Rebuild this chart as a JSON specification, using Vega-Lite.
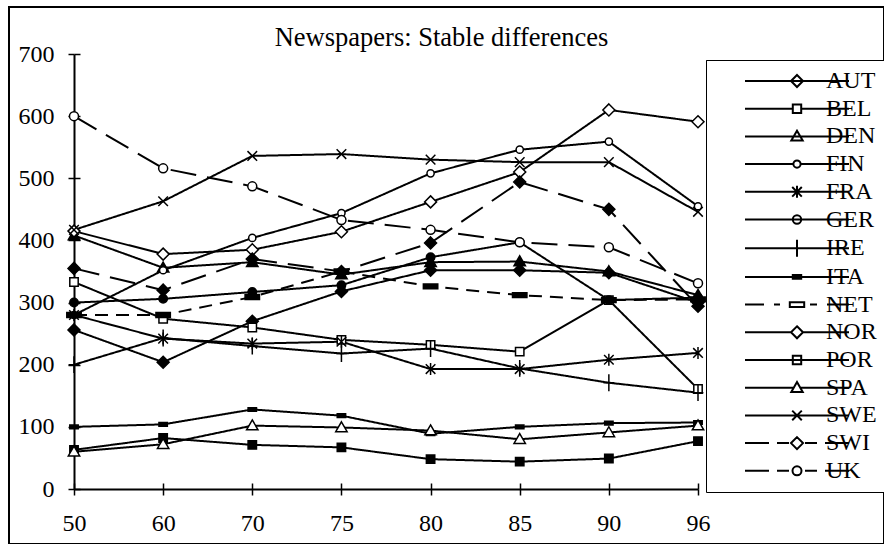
{
  "$schema": "https://vega.github.io/schema/vega-lite/v6.json",
  "width": 875,
  "height": 537,
  "autosize": "none",
  "padding": {"left": 9, "top": 7, "right": 0, "bottom": 0},
  "background": "white",
  "config": {
    "view": {"stroke": "black", "strokeWidth": 2, "fill": "white"},
    "font": "Liberation Serif"
  },
  "title": {
    "text": "Newspapers: Stable differences",
    "font": "Liberation Serif",
    "fontSize": 26.5,
    "fontWeight": "normal",
    "color": "black",
    "anchor": "middle",
    "frame": "group",
    "offset": -65,
    "baseline": "alphabetic",
    "dx": -5
  },
  "data": {
    "values": [
      {"country": "AUT", "year": "50", "value": 256}, {"country": "AUT", "year": "60", "value": 204}, {"country": "AUT", "year": "70", "value": 270}, {"country": "AUT", "year": "75", "value": 318}, {"country": "AUT", "year": "80", "value": 352}, {"country": "AUT", "year": "85", "value": 352}, {"country": "AUT", "year": "90", "value": 348}, {"country": "AUT", "year": "96", "value": 300},
      {"country": "BEL", "year": "50", "value": 333}, {"country": "BEL", "year": "60", "value": 274}, {"country": "BEL", "year": "70", "value": 260}, {"country": "BEL", "year": "75", "value": 240}, {"country": "BEL", "year": "80", "value": 232}, {"country": "BEL", "year": "85", "value": 221}, {"country": "BEL", "year": "90", "value": 304}, {"country": "BEL", "year": "96", "value": 161},
      {"country": "DEN", "year": "50", "value": 408}, {"country": "DEN", "year": "60", "value": 356}, {"country": "DEN", "year": "70", "value": 365}, {"country": "DEN", "year": "75", "value": 345}, {"country": "DEN", "year": "80", "value": 365}, {"country": "DEN", "year": "85", "value": 366}, {"country": "DEN", "year": "90", "value": 350}, {"country": "DEN", "year": "96", "value": 312},
      {"country": "FIN", "year": "50", "value": 280}, {"country": "FIN", "year": "60", "value": 352}, {"country": "FIN", "year": "70", "value": 404}, {"country": "FIN", "year": "75", "value": 444}, {"country": "FIN", "year": "80", "value": 508}, {"country": "FIN", "year": "85", "value": 546}, {"country": "FIN", "year": "90", "value": 559}, {"country": "FIN", "year": "96", "value": 455},
      {"country": "FRA", "year": "50", "value": 280}, {"country": "FRA", "year": "60", "value": 242}, {"country": "FRA", "year": "70", "value": 234}, {"country": "FRA", "year": "75", "value": 237}, {"country": "FRA", "year": "80", "value": 193}, {"country": "FRA", "year": "85", "value": 193}, {"country": "FRA", "year": "90", "value": 208}, {"country": "FRA", "year": "96", "value": 219},
      {"country": "GER", "year": "50", "value": 300}, {"country": "GER", "year": "60", "value": 306}, {"country": "GER", "year": "70", "value": 317}, {"country": "GER", "year": "75", "value": 328}, {"country": "GER", "year": "80", "value": 373}, {"country": "GER", "year": "85", "value": 397}, {"country": "GER", "year": "90", "value": 304}, {"country": "GER", "year": "96", "value": 308},
      {"country": "IRE", "year": "50", "value": 200}, {"country": "IRE", "year": "60", "value": 243}, {"country": "IRE", "year": "70", "value": 230}, {"country": "IRE", "year": "75", "value": 218}, {"country": "IRE", "year": "80", "value": 226}, {"country": "IRE", "year": "85", "value": 194}, {"country": "IRE", "year": "90", "value": 171}, {"country": "IRE", "year": "96", "value": 155},
      {"country": "ITA", "year": "50", "value": 100}, {"country": "ITA", "year": "60", "value": 104}, {"country": "ITA", "year": "70", "value": 128}, {"country": "ITA", "year": "75", "value": 118}, {"country": "ITA", "year": "80", "value": 89}, {"country": "ITA", "year": "85", "value": 100}, {"country": "ITA", "year": "90", "value": 106}, {"country": "ITA", "year": "96", "value": 107},
      {"country": "NET", "year": "50", "value": 280}, {"country": "NET", "year": "60", "value": 280}, {"country": "NET", "year": "70", "value": 309}, {"country": "NET", "year": "75", "value": 350}, {"country": "NET", "year": "80", "value": 326}, {"country": "NET", "year": "85", "value": 312}, {"country": "NET", "year": "90", "value": 304}, {"country": "NET", "year": "96", "value": 305},
      {"country": "NOR", "year": "50", "value": 415}, {"country": "NOR", "year": "60", "value": 378}, {"country": "NOR", "year": "70", "value": 385}, {"country": "NOR", "year": "75", "value": 414}, {"country": "NOR", "year": "80", "value": 462}, {"country": "NOR", "year": "85", "value": 510}, {"country": "NOR", "year": "90", "value": 610}, {"country": "NOR", "year": "96", "value": 591},
      {"country": "POR", "year": "50", "value": 63}, {"country": "POR", "year": "60", "value": 82}, {"country": "POR", "year": "70", "value": 71}, {"country": "POR", "year": "75", "value": 67}, {"country": "POR", "year": "80", "value": 48}, {"country": "POR", "year": "85", "value": 44}, {"country": "POR", "year": "90", "value": 49}, {"country": "POR", "year": "96", "value": 77},
      {"country": "SPA", "year": "50", "value": 60}, {"country": "SPA", "year": "60", "value": 72}, {"country": "SPA", "year": "70", "value": 102}, {"country": "SPA", "year": "75", "value": 99}, {"country": "SPA", "year": "80", "value": 94}, {"country": "SPA", "year": "85", "value": 80}, {"country": "SPA", "year": "90", "value": 91}, {"country": "SPA", "year": "96", "value": 102},
      {"country": "SWE", "year": "50", "value": 417}, {"country": "SWE", "year": "60", "value": 463}, {"country": "SWE", "year": "70", "value": 536}, {"country": "SWE", "year": "75", "value": 539}, {"country": "SWE", "year": "80", "value": 530}, {"country": "SWE", "year": "85", "value": 526}, {"country": "SWE", "year": "90", "value": 526}, {"country": "SWE", "year": "96", "value": 446},
      {"country": "SWI", "year": "50", "value": 355}, {"country": "SWI", "year": "60", "value": 320}, {"country": "SWI", "year": "70", "value": 370}, {"country": "SWI", "year": "75", "value": 350}, {"country": "SWI", "year": "80", "value": 396}, {"country": "SWI", "year": "85", "value": 494}, {"country": "SWI", "year": "90", "value": 450}, {"country": "SWI", "year": "96", "value": 294},
      {"country": "UK", "year": "50", "value": 600}, {"country": "UK", "year": "60", "value": 516}, {"country": "UK", "year": "70", "value": 487}, {"country": "UK", "year": "75", "value": 433}, {"country": "UK", "year": "80", "value": 417}, {"country": "UK", "year": "85", "value": 397}, {"country": "UK", "year": "90", "value": 389}, {"country": "UK", "year": "96", "value": 331}
    ]
  },
  "layer": [
    {
      "mark": {"type": "line", "color": "black", "strokeWidth": 2},
      "encoding": {
        "x": {
          "field": "year",
          "type": "ordinal",
          "sort": ["50", "60", "70", "75", "80", "85", "90", "96"],
          "scale": {"type": "point", "range": [65, 689], "padding": 0},
          "axis": {
            "title": null,
            "orient": "bottom",
            "offset": -55,
            "domainColor": "black",
            "domainWidth": 2,
            "tickColor": "black",
            "tickWidth": 1.5,
            "tickSize": 6,
            "labelAngle": 0,
            "labelFont": "Liberation Serif",
            "labelFontSize": 24,
            "labelColor": "black",
            "labelPadding": 16,
            "grid": false
          }
        },
        "y": {
          "field": "value",
          "type": "quantitative",
          "scale": {"domain": [0, 700], "range": [482, 47], "nice": false},
          "axis": {
            "title": null,
            "orient": "left",
            "offset": -65,
            "values": [0, 100, 200, 300, 400, 500, 600, 700],
            "domainColor": "black",
            "domainWidth": 2,
            "tickColor": "black",
            "tickWidth": 1.5,
            "tickSize": 6,
            "labelFont": "Liberation Serif",
            "labelFontSize": 24,
            "labelColor": "black",
            "labelPadding": 14,
            "grid": false
          }
        },
        "detail": {"field": "country", "type": "nominal"},
        "strokeDash": {
          "field": "country",
          "type": "nominal",
          "scale": {
            "domain": ["UK", "SWI", "SWE", "SPA", "POR", "NOR", "NET", "ITA", "IRE", "GER", "FRA", "FIN", "DEN", "BEL", "AUT"],
            "range": [[26, 11], [26, 11], [1, 0], [1, 0], [1, 0], [1, 0], [13, 8], [1, 0], [1, 0], [1, 0], [1, 0], [1, 0], [1, 0], [1, 0], [1, 0]]
          },
          "legend": null
        }
      }
    },
    {
      "mark": {
        "type": "point",
        "filled": false,
        "stroke": "black",
        "strokeWidth": 1.5,
        "size": 144,
        "opacity": 1,
        "fillOpacity": 1,
        "strokeOpacity": 1,
        "fill": {"expr": "indexof(['AUT', 'DEN', 'GER', 'ITA', 'NET', 'POR', 'SWI'], datum.country) >= 0 ? 'black' : 'white'"}
      },
      "encoding": {
        "x": {
          "field": "year",
          "type": "ordinal",
          "sort": ["50", "60", "70", "75", "80", "85", "90", "96"],
          "scale": {"type": "point", "range": [65, 689], "padding": 0},
          "axis": {
            "title": null,
            "orient": "bottom",
            "offset": -55,
            "domain": false,
            "labels": false,
            "tickColor": "black",
            "tickWidth": 1.5,
            "tickSize": -6,
            "grid": false
          }
        },
        "y": {
          "field": "value",
          "type": "quantitative",
          "scale": {"domain": [0, 700], "range": [482, 47], "nice": false},
          "axis": {
            "title": null,
            "orient": "left",
            "offset": -65,
            "values": [0, 100, 200, 300, 400, 500, 600, 700],
            "domain": false,
            "labels": false,
            "tickColor": "black",
            "tickWidth": 1.5,
            "tickSize": -6,
            "grid": false
          }
        },
        "shape": {
          "field": "country",
          "type": "nominal",
          "scale": {
            "domain": ["UK", "SWI", "SWE", "SPA", "POR", "NOR", "NET", "ITA", "IRE", "GER", "FRA", "FIN", "DEN", "BEL", "AUT"],
            "range": [
              "M0.75,0A0.75,0.75,0,1,1,-0.75,0A0.75,0.75,0,1,1,0.75,0Z",
              "M0,-1L1,0L0,1L-1,0Z",
              "M-0.8,-0.8L0.8,0.8M-0.8,0.8L0.8,-0.8",
              "M0,-0.95L0.95,0.7H-0.95Z",
              "M-0.7,-0.7H0.7V0.7H-0.7Z",
              "M0,-1L1,0L0,1L-1,0Z",
              "M-1.2,-0.4H1.2V0.4H-1.2Z",
              "M-0.7,-0.3H0.7V0.3H-0.7Z",
              "M-0.9,0H0.9M0,-1.4V1.4",
              "M0.7,0A0.7,0.7,0,1,1,-0.7,0A0.7,0.7,0,1,1,0.7,0Z",
              "M0,-1V1M-0.8,-0.8L0.8,0.8M-0.8,0.8L0.8,-0.8",
              "M0.6,0A0.6,0.6,0,1,1,-0.6,0A0.6,0.6,0,1,1,0.6,0Z",
              "M0,-0.95L0.95,0.7H-0.95Z",
              "M-0.7,-0.7H0.7V0.7H-0.7Z",
              "M0,-1L1,0L0,1L-1,0Z"
            ]
          },
          "legend": null
        }
      }
    },
    {
      "mark": {"type": "point", "filled": false, "stroke": "black", "strokeWidth": 2, "size": 100, "opacity": 0},
      "encoding": {
        "x": {
          "field": "year",
          "type": "ordinal",
          "sort": ["50", "60", "70", "75", "80", "85", "90", "96"],
          "scale": {"type": "point", "range": [65, 689], "padding": 0},
          "axis": null
        },
        "y": {
          "field": "value",
          "type": "quantitative",
          "scale": {"domain": [0, 700], "range": [482, 47], "nice": false},
          "axis": null
        },
        "shape": {
          "field": "country",
          "type": "nominal",
          "scale": {
            "domain": ["AUT", "BEL", "DEN", "FIN", "FRA", "GER", "IRE", "ITA", "NET", "NOR", "POR", "SPA", "SWE", "SWI", "UK"],
            "range": [
              "M-10.4,0H10.4M0,-1.2L1.2,0L0,1.2L-1.2,0Z",
              "M-10.4,0H-0.84M0.84,0H10.4M-0.84,-0.84H0.84V0.84H-0.84Z",
              "M-10.4,0H10.4M0,-1.14L1.14,0.84H-1.14Z",
              "M-10.4,0H-0.72M0.72,0H10.4M0.72,0A0.72,0.72,0,1,1,-0.72,0A0.72,0.72,0,1,1,0.72,0Z",
              "M-10.4,0H10.4M0,-1.2V1.2M-0.96,-0.96L0.96,0.96M-0.96,0.96L0.96,-0.96",
              "M-10.4,0H10.4M0.84,0A0.84,0.84,0,1,1,-0.84,0A0.84,0.84,0,1,1,0.84,0Z",
              "M-10.4,0H10.4M0,-1.7V1.7",
              "M-10.4,0H10.4M-0.84,-0.36H0.84V0.36H-0.84Z",
              "M-10.4,0H-6.6M-4.6,0H-3.4M2.6,0H4M6,0H10.4M-1.44,-0.48H1.44V0.48H-1.44Z",
              "M-10.4,0H-1.2M1.2,0H10.4M0,-1.2L1.2,0L0,1.2L-1.2,0Z",
              "M-10.4,0H10.4M-0.84,-0.84H0.84V0.84H-0.84Z",
              "M-10.4,0H-0.66M0.66,0H10.4M0,-1.14L1.14,0.84H-1.14Z",
              "M-10.4,0H10.4M-0.96,-0.96L0.96,0.96M-0.96,0.96L0.96,-0.96",
              "M-10.4,0H-5.6M-4,0H-1.6M1.6,0H4M5.6,0H10.4M0,-1.2L1.2,0L0,1.2L-1.2,0Z",
              "M-10.4,0H-5.6M-4,0H-1.6M1.6,0H4M5.6,0H10.4M0.9,0A0.9,0.9,0,1,1,-0.9,0A0.9,0.9,0,1,1,0.9,0Z"
            ]
          },
          "legend": {
            "title": null,
            "orient": "none",
            "legendX": 697,
            "legendY": 53,
            "strokeColor": "black",
            "fillColor": "white",
            "padding": 9,
            "rowPadding": 3.7,
            "symbolSize": 100,
            "symbolStrokeWidth": 2,
            "symbolStrokeColor": "black",
            "symbolFillColor": "white",
            "symbolOpacity": 1,
            "symbolOffset": 70,
            "labelOffset": 17,
            "labelFont": "Liberation Serif",
            "labelFontSize": 24,
            "labelColor": "black",
            "labelLimit": 200
          }
        },
        "fill": {
          "field": "country",
          "type": "nominal",
          "scale": {
            "domain": ["AUT", "BEL", "DEN", "FIN", "FRA", "GER", "IRE", "ITA", "NET", "NOR", "POR", "SPA", "SWE", "SWI", "UK"],
            "range": ["black", "white", "black", "white", "white", "black", "white", "black", "black", "white", "black", "white", "white", "black", "white"]
          },
          "legend": {
            "title": null,
            "orient": "none",
            "legendX": 697,
            "legendY": 53,
            "strokeColor": "black",
            "fillColor": "white",
            "padding": 9,
            "rowPadding": 3.7,
            "symbolSize": 100,
            "symbolStrokeWidth": 2,
            "symbolStrokeColor": "black",
            "symbolFillColor": "white",
            "symbolOpacity": 1,
            "symbolOffset": 70,
            "labelOffset": 17,
            "labelFont": "Liberation Serif",
            "labelFontSize": 24,
            "labelColor": "black",
            "labelLimit": 200
          }
        }
      }
    }
  ],
  "resolve": {
    "scale": {"shape": "independent"},
    "axis": {"x": "independent", "y": "independent"}
  }
}
